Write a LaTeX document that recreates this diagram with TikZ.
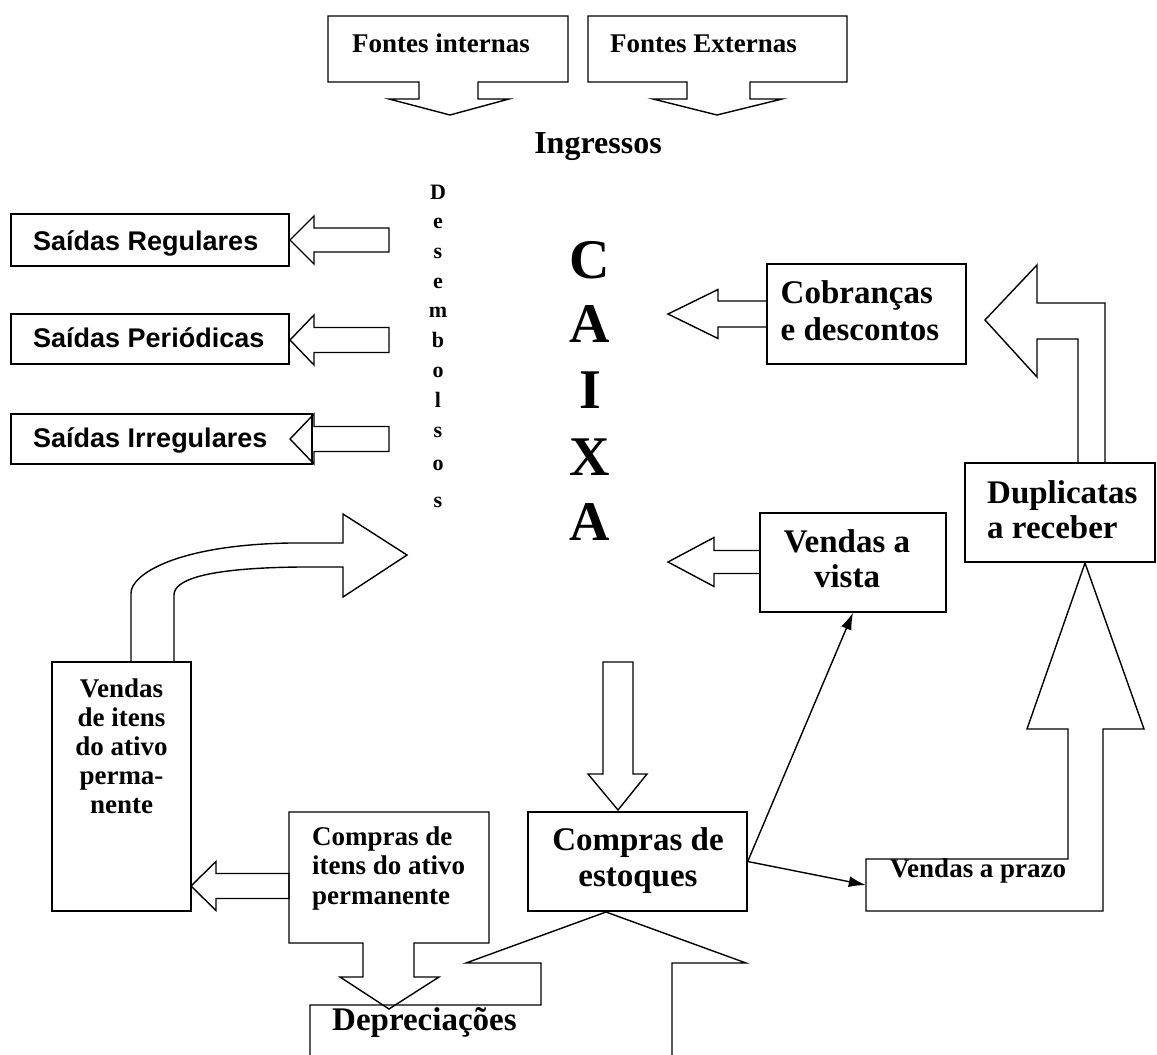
\documentclass[tikz,border=0pt]{standalone}
\usepackage{fontspec}
\setmainfont{Liberation Serif}
\newfontfamily\arialfont{Liberation Sans}
\usetikzlibrary{arrows.meta}
\newcommand{\myfs}[2]{\fontsize{#1}{#2}\selectfont}
% left-pointing block arrow: tipx, tipy, headbase x, half head, half shaft, tail x
\newcommand{\blockleft}[6]{%
  \draw[outl] (#6,#2-#5) -- (#3,#2-#5) -- (#3,#2-#4) -- (#1,#2) -- (#3,#2+#4) -- (#3,#2+#5) -- (#6,#2+#5) -- cycle;}
\begin{document}
\begin{tikzpicture}[x=1pt,y=-1pt,
  outl/.style={draw=black, line width=1.4pt, line join=miter},
  box/.style={outl, rectangle, inner sep=0pt},
  area/.style={rectangle, inner sep=0pt},
  txt/.style={inner sep=0pt, font=\bfseries\myfs{#1}{#1}},
  sanslbl/.style={inner sep=0pt, font=\arialfont\bfseries\myfs{27}{27}},
  conn/.style={draw=black, line width=1.4pt, -{Latex[length=17pt,width=11pt]}}]
\useasboundingbox (0,0) rectangle (1157,1055);
\fill[white] (0,0) rectangle (1157,1055);

% ---- top sources ----
\node[area, minimum width=240pt, minimum height=66pt] (fi) at (448,49) {};
\draw[outl] (328,16) -- (568,16) -- (568,82) -- (478,82) -- (478,99) -- (509,99) -- (450,115) -- (389,99) -- (419,99) -- (419,82) -- (328,82) -- cycle;
\node[txt=27, anchor=base west] (fit) at (352,52) {Fontes internas};

\node[area, minimum width=259pt, minimum height=66pt] (fe) at (717.5,49) {};
\draw[outl] (588,16) -- (847,16) -- (847,82) -- (750,82) -- (750,99) -- (782,99) -- (717,115) -- (653,99) -- (687,99) -- (687,82) -- (588,82) -- cycle;
\node[txt=27, anchor=base west] (fet) at (610,52) {Fontes Externas};

\node[txt=32, anchor=base] (ing) at (598,153) {Ingressos};

% ---- vertical words ----
\foreach \l/\y [count=\i] in {D/199,e/228,s/258,e/288,m/317,b/347,o/377,l/407,s/437,o/470,s/507}
  \node[txt=22, anchor=base] (des\i) at (438,\y) {\l};
\foreach \l/\y [count=\i] in {C/278,A/342,I/408,X/475,A/540}
  \node[txt=56, anchor=base] (cx\i) at (590,\y) {\l};

% ---- outflows ----
\node[box, minimum width=278pt, minimum height=52pt] (sr) at (150,240) {};
\node[sanslbl, anchor=base west] (srt) at (33,250) {Saídas Regulares};
\node[box, minimum width=278pt, minimum height=50pt] (sp) at (150,339) {};
\node[sanslbl, anchor=base west] (spt) at (33,347) {Saídas Periódicas};
\node[box, minimum width=301pt, minimum height=50pt] (si) at (161.5,439) {};
\node[sanslbl, anchor=base west] (sit) at (33,447) {Saídas Irregulares};
\blockleft{290}{240}{314}{24}{12}{389}
\blockleft{290}{340}{314}{25}{12.5}{389}
\blockleft{290}{439}{314}{25}{12.5}{389}

% ---- Cobrancas ----
\node[box, minimum width=199pt, minimum height=100pt] (cob) at (866.5,314) {};
\node[inner sep=0pt, align=left, font=\bfseries\myfs{33}{37}] (cobt) at (860,310.5) {Cobranças\\e descontos};
\blockleft{668}{314}{718}{24.5}{13}{767}

% ---- Duplicatas ----
\node[box, minimum width=190pt, minimum height=99pt] (dup) at (1060,512.5) {};
\node[inner sep=0pt, align=left, font=\bfseries\myfs{33}{35}, anchor=west] (dupt) at (987,509.5) {Duplicatas\\a receber};
\draw[outl] (1078,463) -- (1078,339) -- (1037,339) -- (1037,377) -- (985,320) -- (1037,265) -- (1037,303) -- (1105,303) -- (1105,463);

% ---- Vendas a vista ----
\node[box, minimum width=186pt, minimum height=99pt] (vv) at (853,562.5) {};
\node[inner sep=0pt, align=center, font=\bfseries\myfs{33}{35}] (vvt) at (847,558.5) {Vendas a\\vista};
\blockleft{668}{562}{714}{24.5}{11.5}{760}

% ---- Vendas a prazo ----
\node[area, minimum width=237pt, minimum height=52pt] (vp) at (984.5,885) {};
\draw[outl] (866,859) -- (1068,859) -- (1068,729) -- (1027,729) -- (1085,563) -- (1144,729) -- (1103,729) -- (1103,911) -- (866,911) -- cycle;
\node[txt=27, anchor=base west] (vpt) at (890,877) {Vendas a prazo};

% ---- Compras de estoques ----
\node[box, minimum width=219pt, minimum height=99pt] (ce) at (637.5,861.5) {};
\node[inner sep=0pt, align=center, font=\bfseries\myfs{33}{36}] (cet) at (638,860.5) {Compras de\\estoques};
\draw[outl] (603,662) -- (633,662) -- (633,774) -- (647,774) -- (618,810) -- (588,774) -- (603,774) -- cycle;
\draw[conn] (ce.east) -- (vv.south);
\draw[conn] (ce.east) -- (vp.west);

% ---- Depreciacoes ----
\node[area, minimum width=362pt, minimum height=50pt] (dep) at (491,1030) {};
\draw[outl] (310,1060) -- (310,1005) -- (541,1005) -- (541,963) -- (466,963) -- (606,912) -- (746,963) -- (672,963) -- (672,1060);
\node[txt=33, anchor=base west] (dept) at (332,1030) {Depreciações};

% ---- Compras de itens do ativo permanente ----
\node[area, minimum width=200pt, minimum height=131pt] (ci) at (389,877.5) {};
\draw[outl] (289,812) -- (489,812) -- (489,943) -- (414,943) -- (414,977) -- (439,977) -- (389,1009) -- (340,977) -- (363,977) -- (363,943) -- (289,943) -- cycle;
\node[inner sep=0pt, align=left, font=\bfseries\myfs{27}{29.5}, anchor=west] (cit) at (312,868) {Compras de\\itens do ativo\\permanente};
\blockleft{191}{886}{216}{24.5}{12.5}{289}

% ---- Vendas de itens do ativo permanente ----
\node[box, minimum width=139pt, minimum height=249pt] (vi) at (121.5,786.5) {};
\node[inner sep=0pt, align=center, font=\bfseries\myfs{27}{29}] (vit) at (121.5,746) {Vendas\\de itens\\do ativo\\perma-\\nente};
\draw[outl] (174,662) -- (174,595) .. controls (174,580) and (205,568) .. (300,567) -- (343,567) -- (343,597) -- (407,555) -- (343,514) -- (343,543) -- (290,543) .. controls (175,545) and (131,575) .. (131,593) -- (131,662);
\end{tikzpicture}
\end{document}
